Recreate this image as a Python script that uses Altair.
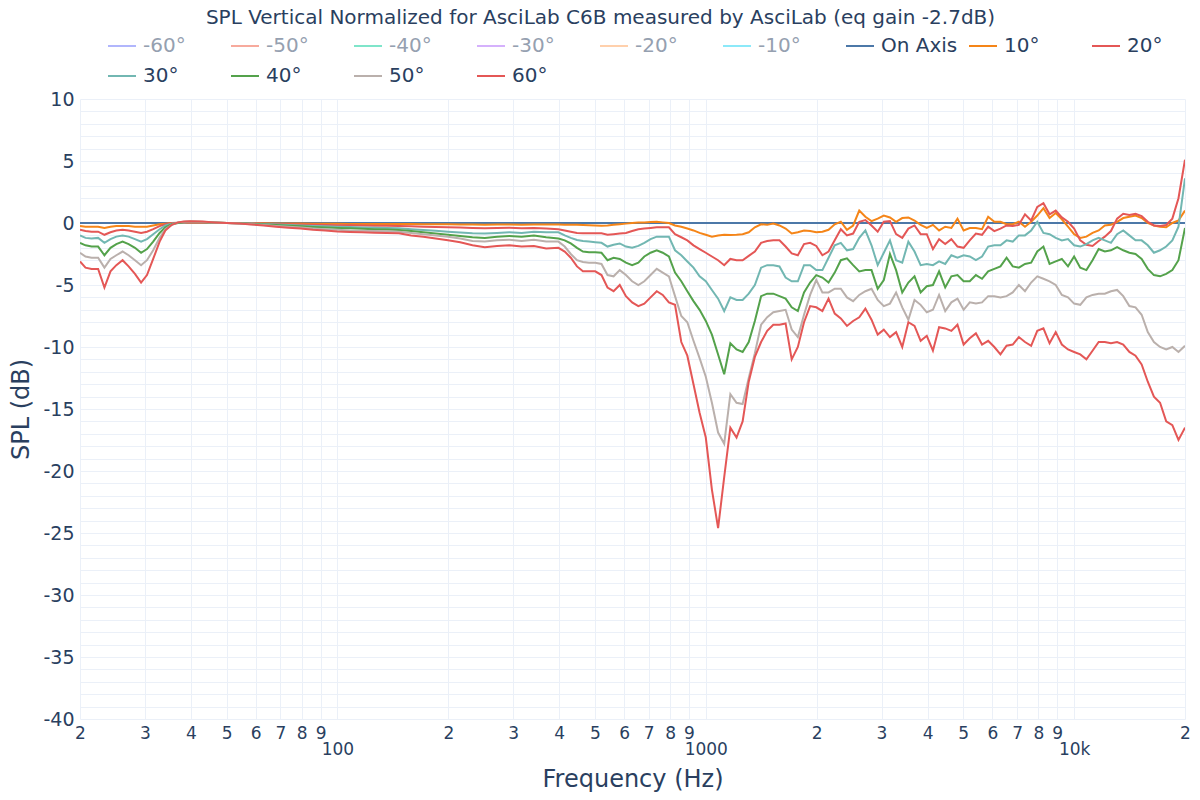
import altair as alt
import pandas as pd

# ---------------- data ----------------
freq_low = [20.0, 20.7, 21.5, 22.4, 23.3, 24.2, 25.1, 26.1, 27.1, 28.2, 29.3, 30.4,
            31.6, 32.9, 34.1, 35.5, 36.9, 38.3, 39.8]
freq_mid = [43.0, 46.4, 50.1, 54.1, 58.4, 63.1, 68.1, 73.6, 79.4, 85.8, 92.6, 100,
            108, 116.6, 125.9, 135.9, 146.8, 158.5, 171.1, 184.8, 199.5, 215.4,
            232.6, 251.2, 271.2, 292.9, 316.2, 341.5, 368.7]
freq_high = [398, 414, 430, 447, 464, 482, 501, 521, 541, 562, 584, 607, 631, 656,
             681, 708, 736, 764, 794, 825, 858, 891, 926, 962, 1000, 1039, 1080,
             1122, 1166, 1212, 1259, 1308, 1359, 1413, 1468, 1525, 1585, 1647, 1711,
             1778, 1848, 1920, 1995, 2073, 2154, 2239, 2326, 2417, 2512, 2610, 2712,
             2818, 2929, 3043, 3162, 3286, 3415, 3548, 3687, 3831, 3981, 4137, 4299,
             4467, 4642, 4823, 5012, 5208, 5412, 5623, 5843, 6072, 6310, 6556, 6813,
             7079, 7356, 7644, 7943, 8254, 8577, 8913, 9261, 9624, 10000, 10391,
             10798, 11220, 11659, 12115, 12589, 13082, 13594, 14125, 14678, 15252,
             15849, 16469, 17113, 17783, 18478, 19201, 20000]
freqs = freq_low + freq_mid + freq_high

on_axis = [0.0] * len(freqs)

deg10 = ([-0.25, -0.3, -0.3, -0.3, -0.4, -0.3, -0.25, -0.25, -0.25, -0.3, -0.3, -0.3,
          -0.2, -0.1, -0.05, 0.0, 0.0, 0.03, 0.05]
         + [0.02, 0.01, 0.0, -0.01, -0.02, -0.03, -0.04, -0.05, -0.05, -0.06, -0.07,
            -0.07, -0.08, -0.08, -0.08, -0.08, -0.08, -0.09, -0.1, -0.1, -0.11, -0.12,
            -0.13, -0.14, -0.13, -0.13, -0.14, -0.13, -0.13]
         + [-0.13, -0.14, -0.15, -0.15, -0.17, -0.18, -0.2, -0.22, -0.2, -0.15, -0.1,
            -0.05, 0.0, 0.05, 0.05, 0.08, 0.1, 0.05, 0.0, -0.2, -0.3, -0.45, -0.6, -0.8,
            -0.95, -1.1, -1.0, -0.95, -0.97, -0.95, -0.9]
         + [-0.75, -0.35, -0.1, -0.15, -0.05, -0.2, -0.45, -0.85, -0.75, -0.6, -0.65,
            -0.75, -0.7, -0.55, -0.1, 0.1, -0.55, -0.2, 1.0, 0.5, 0.15, 0.35, 0.6, 0.45,
            0.1, 0.4, 0.45, 0.2, -0.15, -0.4, -0.15, -0.6, -0.3, -0.4, 0.35, -0.6, -0.4]
         + [-0.4, -0.5, 0.5, 0.1, 0.1, -0.1, -0.1, 0.1, -0.3, 0.1, 0.6, 1.2, 0.4, 0.8,
            0.3, -0.3, -0.9, -1.2, -1.1, -0.8, -0.6, -0.2, -0.15, 0.1, 0.4, 0.5, 0.6,
            0.4, 0.0, -0.2, -0.3, -0.35, 0.0, 0.2, 1.0])

deg20 = ([-0.55, -0.65, -0.7, -0.7, -0.95, -0.75, -0.6, -0.55, -0.6, -0.7, -0.8, -0.7,
          -0.5, -0.25, -0.1, 0.0, 0.03, 0.05, 0.05]
         + [0.04, 0.02, 0.0, -0.02, -0.04, -0.06, -0.08, -0.1, -0.12, -0.14, -0.16,
            -0.18, -0.19, -0.2, -0.22, -0.23, -0.24, -0.27, -0.3, -0.32, -0.35, -0.37,
            -0.4, -0.42, -0.4, -0.38, -0.42, -0.4, -0.45]
         + [-0.5, -0.6, -0.7, -0.8, -0.83, -0.83, -0.83, -0.83, -0.95, -0.9, -0.85,
            -0.8, -0.65, -0.5, -0.45, -0.4, -0.35, -0.35, -0.35, -0.9, -1.15, -1.4, -1.8,
            -2.1, -2.4, -2.7, -3.0, -3.4, -2.9, -3.0, -3.0]
         + [-2.65, -2.3, -1.6, -1.45, -1.4, -1.4, -1.9, -2.45, -2.6, -1.7, -1.6, -1.85,
            -2.6, -2.3, -1.4, -0.5, -1.0, -0.85, 0.1, 0.24, -0.2, -0.7, 0.1, 0.15, -0.9,
            -1.2, -0.45, -0.2, -0.9, -0.9, -2.1, -1.3, -1.7, -1.3, -1.9, -2.0, -1.4]
         + [-0.85, -0.95, -0.3, -0.65, -0.45, -0.2, -0.25, -0.15, 0.7, 0.2, 1.3, 1.6,
            0.7, 1.0, 0.45, 0.1, -0.45, -1.4, -1.75, -1.85, -1.45, -1.1, -0.65, 0.35,
            0.75, 0.65, 0.75, 0.55, 0.1, -0.2, -0.24, -0.16, 0.35, 2.0, 5.1])

deg30 = ([-1.0, -1.2, -1.25, -1.2, -1.6, -1.3, -1.1, -1.0, -1.1, -1.3, -1.5, -1.3,
          -0.9, -0.5, -0.2, -0.05, 0.0, 0.05, 0.08]
         + [0.06, 0.03, 0.0, -0.02, -0.05, -0.08, -0.12, -0.16, -0.2, -0.24, -0.27,
            -0.3, -0.33, -0.36, -0.38, -0.4, -0.43, -0.5, -0.56, -0.62, -0.7, -0.76,
            -0.82, -0.85, -0.8, -0.75, -0.8, -0.7, -0.75]
         + [-0.75, -1.0, -1.2, -1.37, -1.45, -1.5, -1.55, -1.6, -1.9, -1.75, -1.65,
            -1.9, -2.0, -1.85, -1.6, -1.3, -1.1, -1.1, -1.1, -2.2, -2.6, -3.1, -3.6,
            -4.3, -4.7, -5.4, -6.1, -7.1, -6.0, -6.2, -6.2]
         + [-5.7, -5.0, -3.6, -3.4, -3.4, -3.5, -4.4, -4.7, -4.7, -3.4, -3.4, -3.8,
            -3.8, -2.8, -1.8, -1.6, -2.2, -2.1, -1.2, -0.6, -1.8, -3.4, -2.4, -1.4,
            -3.0, -3.2, -1.5, -2.3, -3.4, -3.3, -3.4, -3.1, -3.3, -2.6, -2.8, -2.6, -2.7]
         + [-3.0, -2.7, -1.9, -1.8, -1.8, -1.4, -1.5, -1.0, -1.0, -0.6, 0.1, -0.8,
            -0.9, -1.2, -1.4, -1.3, -1.8, -1.9, -1.7, -1.4, -1.2, -1.4, -1.6, -0.9,
            -0.6, -1.0, -1.4, -1.4, -1.8, -2.4, -2.2, -1.9, -1.4, -0.3, 3.6])

deg40 = ([-1.6, -1.8, -1.9, -1.9, -2.6, -2.0, -1.7, -1.5, -1.7, -2.0, -2.4, -2.1,
          -1.5, -0.8, -0.35, -0.1, 0.0, 0.08, 0.1]
         + [0.08, 0.04, 0.0, -0.03, -0.08, -0.12, -0.17, -0.22, -0.27, -0.32, -0.37,
            -0.4, -0.43, -0.46, -0.5, -0.52, -0.56, -0.65, -0.75, -0.85, -0.95, -1.05,
            -1.15, -1.2, -1.1, -1.05, -1.1, -1.0, -1.15]
         + [-1.25, -1.4, -1.65, -2.0, -2.3, -2.35, -2.35, -2.4, -3.0, -2.8, -2.9,
            -3.2, -3.4, -3.2, -2.7, -2.4, -2.2, -2.4, -2.7, -4.0, -4.7, -5.5, -6.3,
            -7.0, -7.9, -9.0, -10.6, -12.2, -9.7, -10.2, -10.4]
         + [-9.6, -7.9, -5.9, -5.7, -5.7, -5.9, -6.1, -6.8, -7.1, -5.6, -4.8, -4.2,
            -4.4, -4.8, -4.0, -3.0, -2.85, -3.4, -3.9, -3.8, -3.8, -5.3, -4.6, -2.5,
            -3.8, -5.6, -4.8, -4.3, -5.6, -5.1, -5.0, -3.9, -5.2, -4.3, -4.2, -4.7, -4.7]
         + [-4.2, -4.5, -3.9, -3.7, -3.5, -2.8, -3.5, -3.6, -3.3, -3.2, -2.3, -1.9,
            -3.3, -3.1, -2.9, -3.5, -2.7, -3.6, -3.8, -3.0, -2.1, -2.3, -2.2, -1.95,
            -2.2, -2.4, -2.5, -2.9, -3.7, -4.2, -4.3, -4.1, -3.8, -3.0, -0.4])

deg50 = ([-2.4, -2.7, -2.8, -2.8, -3.6, -2.9, -2.6, -2.3, -2.6, -3.0, -3.4, -3.0,
          -2.2, -1.2, -0.5, -0.15, 0.05, 0.1, 0.12]
         + [0.1, 0.05, 0.0, -0.04, -0.1, -0.16, -0.24, -0.3, -0.37, -0.44, -0.5,
            -0.55, -0.6, -0.62, -0.65, -0.67, -0.7, -0.8, -0.9, -1.0, -1.1, -1.25,
            -1.45, -1.5, -1.4, -1.35, -1.45, -1.35, -1.5]
         + [-1.5, -1.9, -2.5, -3.0, -3.15, -3.2, -3.2, -3.3, -4.2, -4.3, -3.8, -4.2,
            -4.7, -5.0, -4.7, -4.2, -3.7, -4.0, -4.3, -5.9, -7.5, -8.0, -9.5, -10.9,
            -12.4, -14.5, -16.9, -17.8, -13.8, -14.5, -14.6]
         + [-12.5, -10.5, -8.2, -7.6, -7.2, -7.1, -7.0, -8.6, -9.2, -7.4, -5.8, -4.6,
            -5.6, -5.6, -5.3, -5.3, -6.0, -6.3, -5.8, -5.5, -5.3, -6.2, -6.7, -6.5,
            -5.6, -6.8, -7.8, -6.2, -6.6, -7.2, -7.0, -5.8, -7.1, -6.4, -6.1, -7.0, -6.4]
         + [-6.5, -6.4, -5.9, -5.9, -6.0, -5.9, -5.6, -5.0, -5.5, -4.8, -4.3, -4.5,
            -4.7, -5.0, -5.8, -6.0, -6.5, -6.6, -6.0, -5.8, -5.7, -5.7, -5.5, -5.4,
            -5.9, -6.7, -6.8, -7.4, -8.8, -9.6, -10.0, -10.2, -10.0, -10.4, -9.9])

deg60 = ([-3.1, -3.6, -3.7, -3.7, -5.2, -3.9, -3.4, -3.0, -3.5, -4.1, -4.8, -4.2,
          -2.9, -1.5, -0.6, -0.15, 0.05, 0.12, 0.15]
         + [0.12, 0.05, 0.0, -0.05, -0.12, -0.2, -0.3, -0.38, -0.45, -0.55, -0.6,
            -0.68, -0.72, -0.75, -0.78, -0.8, -0.83, -1.0, -1.1, -1.25, -1.4, -1.55,
            -1.8, -1.95, -1.85, -1.8, -1.9, -1.85, -2.05]
         + [-2.0, -2.3, -2.8, -3.5, -3.9, -3.9, -3.9, -4.2, -5.2, -5.5, -5.0, -5.9,
            -6.4, -6.7, -6.5, -6.0, -5.5, -5.8, -6.4, -6.6, -9.6, -10.7, -13.0, -15.3,
            -17.3, -21.5, -24.6, -20.5, -16.5, -17.3, -16.0]
         + [-12.8, -10.8, -9.6, -8.7, -8.2, -8.2, -8.1, -11.0, -10.0, -8.0, -6.7,
            -6.8, -7.1, -6.1, -7.3, -7.7, -8.3, -7.9, -7.6, -6.9, -7.8, -9.0, -8.6,
            -9.2, -8.8, -10.0, -8.0, -8.3, -9.5, -9.1, -10.3, -8.4, -8.5, -8.7, -8.2,
            -9.8, -9.3]
         + [-8.9, -9.8, -9.5, -10.0, -10.6, -9.9, -9.8, -9.2, -9.6, -9.9, -8.7, -8.5,
            -9.7, -8.8, -9.8, -10.2, -10.4, -10.6, -11.0, -10.3, -9.6, -9.6, -9.7,
            -9.6, -9.8, -10.4, -10.7, -11.4, -12.8, -14.0, -14.5, -16.0, -16.3, -17.5,
            -16.5])

hidden_names = ["-60°", "-50°", "-40°", "-30°", "-20°", "-10°"]
hidden_colors = ["#b1b6fc", "#f7aa9d", "#7fe5ca", "#d5b1fc", "#ffd0ac", "#8ce9f9"]
shown_names = ["On Axis", "10°", "20°", "30°", "40°", "50°", "60°"]
shown_colors = ["#4c78a8", "#f58518", "#e45756", "#72b7b2", "#54a24b", "#bab0ac", "#e45756"]
shown_values = [on_axis, deg10, deg20, deg30, deg40, deg50, deg60]

x_ticks = [20, 30, 40, 50, 60, 70, 80, 90, 100, 200, 300, 400, 500, 600, 700, 800,
           900, 1000, 2000, 3000, 4000, 5000, 6000, 7000, 8000, 9000, 10000, 20000]
y_ticks = list(range(-40, 11))

rows = []
for k, (name, vals) in enumerate(zip(shown_names, shown_values)):
    for f, v in zip(freqs, vals):
        rows.append({"freq": f, "spl": v, "series": name, "k": k})
df = pd.DataFrame(rows)

FONT = "DejaVu Sans"
TXT = "#2a3f5f"
GRID = "#ebf0f8"

x_label_expr = ("datum.value == 100 ? ['', '100'] : datum.value == 1000 ? ['', '1000'] : "
                "datum.value == 10000 ? ['', '10k'] : substring('' + datum.value, 0, 1)")
y_label_expr = "datum.value % 5 == 0 ? '' + datum.value : ''"
legend_color_expr = ("indexof(['-60°','-50°','-40°','-30°','-20°','-10°'], datum.value) >= 0"
                     " ? '#95a0b0' : '#2a3f5f'")

chart = alt.Chart(df).mark_line(strokeWidth=2, clip=True).encode(
    x=alt.X("freq:Q",
            scale=alt.Scale(type="log", domain=[20, 20000], nice=False),
            axis=alt.Axis(title="Frequency (Hz)", values=x_ticks, labelExpr=x_label_expr,
                          labelFont=FONT, labelFontSize=17, labelColor=TXT,
                          labelLineHeight=16, labelPadding=6, labelOverlap=False,
                          labelFlush=False, domain=False, ticks=False,
                          gridColor=GRID, gridWidth=1,
                          titleFont=FONT, titleFontSize=24, titleColor=TXT,
                          titleFontWeight="normal", titleY=67,
                          titleBaseline="alphabetic")),
    y=alt.Y("spl:Q",
            scale=alt.Scale(domain=[-40, 10], nice=False, zero=False),
            axis=alt.Axis(title="SPL (dB)", values=y_ticks, labelExpr=y_label_expr,
                          labelFont=FONT, labelFontSize=19, labelColor=TXT,
                          labelPadding=6, labelOverlap=False, domain=False,
                          ticks=False, gridColor=GRID, gridWidth=1,
                          titleFont=FONT, titleFontSize=24, titleColor=TXT,
                          titleFontWeight="normal", titleX=-52, titleY=310,
                          titleAngle=270, titleAlign="center",
                          titleBaseline="alphabetic")),
    color=alt.Color("series:N",
                    scale=alt.Scale(domain=hidden_names + shown_names,
                                    range=hidden_colors + shown_colors),
                    legend=alt.Legend(title=None, orient="none", legendX=27, legendY=-68,
                                      direction="horizontal", columns=9,
                                      symbolType="stroke", symbolSize=784,
                                      symbolStrokeWidth=2, labelFont=FONT,
                                      labelFontSize=20,
                                      labelColor=alt.ExprRef(legend_color_expr),
                                      gridAlign="all", columnPadding=7, rowPadding=5,
                                      labelOffset=6, padding=0)),
    order=alt.Order("k:Q"),
    detail="series:N",
).properties(
    width=1105, height=620,
    title=alt.TitleParams("SPL Vertical Normalized for AsciLab C6B measured by AsciLab (eq gain -2.7dB)",
                          font=FONT, fontSize=20, color=TXT, fontWeight="normal",
                          anchor="middle", frame="group", dx=-32, offset=3),
    autosize=alt.AutoSizeParams(type="none"),
    padding={"left": 72, "top": 91, "right": 7, "bottom": 73},
).configure_view(stroke=None)

chart.save("out.html", embed_options={"renderer": "svg", "actions": False})
